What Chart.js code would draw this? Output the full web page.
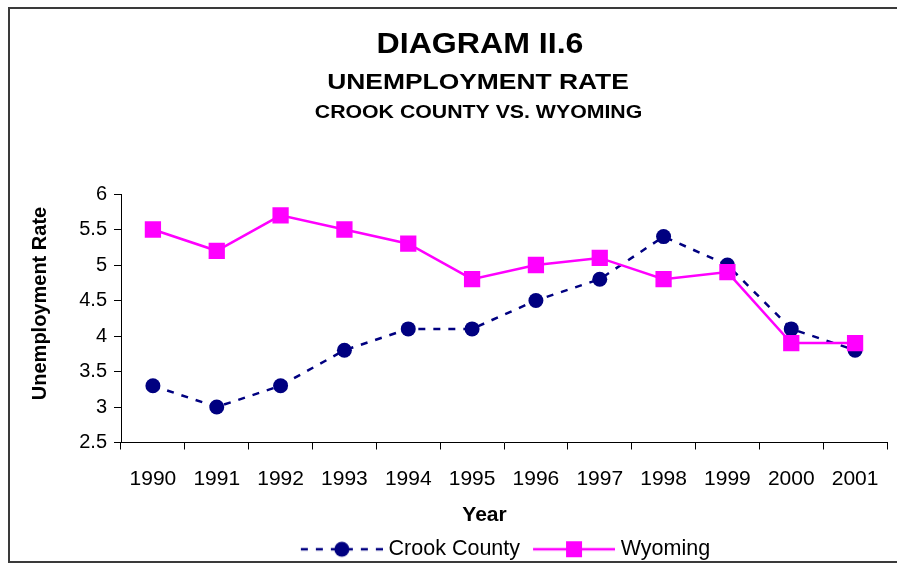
<!DOCTYPE html>
<html>
<head>
<meta charset="utf-8">
<script src="https://cdn.jsdelivr.net/npm/chart.js@4/dist/chart.umd.min.js"></script>
<style>
html,body{margin:0;padding:0;background:#fff;width:897px;height:563px;overflow:hidden}
#wrap{position:absolute;left:0;top:0;width:960px;height:563px}
#frame{position:absolute;left:8px;top:7px;width:960px;height:556px;border:2px solid #3a3a3a;box-sizing:border-box;pointer-events:none}
</style>
</head>
<body>
<div id="wrap"><canvas id="c" width="960" height="563"></canvas></div>
<div id="frame"></div>
<script>
// ---- data ----
const TITLE_LINES = ["DIAGRAM II.6", "UNEMPLOYMENT RATE", "CROOK COUNTY VS. WYOMING"];
const YEARS = ["1990","1991","1992","1993","1994","1995","1996","1997","1998","1999","2000","2001"];
const CROOK_COUNTY = [3.3, 3.0, 3.3, 3.8, 4.1, 4.1, 4.5, 4.8, 5.4, 5.0, 4.1, 3.8];
const WYOMING = [5.5, 5.2, 5.7, 5.5, 5.3, 4.8, 5.0, 5.1, 4.8, 4.9, 3.9, 3.9];
const SERIES_NAMES = ["Crook County", "Wyoming"];
const X_TITLE = "Year";
const Y_TITLE = "Unemployment Rate";

const FONT = "'Liberation Sans', Arial, Helvetica, sans-serif";
const NAVY = "#000080";
const MAGENTA = "#FF00FF";

function legendIcon(color, dash, style) {
  const c = document.createElement('canvas');
  c.width = 90; c.height = 18;
  const g = c.getContext('2d');
  g.strokeStyle = color; g.lineWidth = 2.5; g.setLineDash(dash);
  g.beginPath(); g.moveTo(8, 9); g.lineTo(90, 9); g.stroke();
  g.fillStyle = color;
  if (style === 'circle') { g.beginPath(); g.arc(49, 9, 7.5, 0, Math.PI * 2); g.fill(); }
  else { g.fillRect(41, 1, 16, 16); }
  return c;
}
const ICONS = {};
ICONS[SERIES_NAMES[0]] = legendIcon(NAVY, [7, 8], 'circle');
ICONS[SERIES_NAMES[1]] = legendIcon(MAGENTA, [], 'rect');

function stretchedText(ctx, text, font, cx, baseline, sx) {
  ctx.save();
  ctx.font = font;
  ctx.translate(cx, baseline);
  ctx.scale(sx, 1);
  ctx.fillText(text, 0, 0);
  ctx.restore();
}

const titlesPlugin = {
  id: 'titles',
  afterDraw(chart) {
    const ctx = chart.ctx;
    ctx.save();
    ctx.fillStyle = '#000';
    ctx.textAlign = 'center';
    ctx.textBaseline = 'alphabetic';
    stretchedText(ctx, TITLE_LINES[0], "bold 30px " + FONT, 480, 53, 1.07);
    stretchedText(ctx, TITLE_LINES[1], "bold 22px " + FONT, 478, 89, 1.2);
    stretchedText(ctx, TITLE_LINES[2], "bold 19px " + FONT, 478.5, 118, 1.12);
    // axis titles
    ctx.font = "bold 21px " + FONT;
    ctx.fillText(X_TITLE, 484.5, 521);
    ctx.translate(46, 303.5);
    ctx.rotate(-Math.PI / 2);
    ctx.font = "bold 20px " + FONT;
    ctx.fillText(Y_TITLE, 0, 0);
    ctx.restore();
  }
};

Chart.defaults.font.family = FONT;
Chart.defaults.color = '#000';

new Chart(document.getElementById('c'), {
  type: 'line',
  data: {
    labels: YEARS,
    datasets: [
      {
        label: SERIES_NAMES[1],
        data: WYOMING,
        borderColor: MAGENTA,
        backgroundColor: MAGENTA,
        borderWidth: 2.5,
        tension: 0,
        pointStyle: 'rect',
        pointRadius: 11.5,
        pointHoverRadius: 11.5,
        pointBorderWidth: 0,
        pointBackgroundColor: MAGENTA,
        fill: false
      },
      {
        label: SERIES_NAMES[0],
        data: CROOK_COUNTY,
        borderColor: NAVY,
        backgroundColor: NAVY,
        borderWidth: 2.5,
        borderDash: [7, 8],
        tension: 0,
        pointStyle: 'circle',
        pointRadius: 7.5,
        pointHoverRadius: 7.5,
        pointBorderWidth: 0,
        pointBackgroundColor: NAVY,
        fill: false
      }
    ]
  },
  options: {
    responsive: false,
    animation: false,
    layout: { padding: { top: 194, left: 0, right: 73, bottom: -7 } },
    plugins: {
      title: { display: false },
      tooltip: { enabled: false },
      legend: {
        display: true,
        position: 'bottom',
        fullSize: false,
        reverse: true,
        labels: {
          usePointStyle: true,
          pointStyleWidth: 80,
          padding: 10,
          color: '#000',
          font: { size: 21.5 },
          generateLabels(chart) {
            const items = Chart.defaults.plugins.legend.labels.generateLabels(chart);
            items.forEach(it => { it.pointStyle = ICONS[it.text]; });
            return items;
          }
        }
      }
    },
    scales: {
      x: {
        type: 'category',
        offset: true,
        grid: { offset: true, drawOnChartArea: false, drawTicks: true, tickLength: 7, color: '#000', lineWidth: 1 },
        border: { display: true, color: '#000', width: 1 },
        ticks: { color: '#000', font: { size: 21 }, padding: 17, maxRotation: 0, autoSkip: false },
        title: { display: false },
        afterFit(scale) { scale.height = 86; }
      },
      y: {
        min: 2.5,
        max: 6,
        ticks: {
          stepSize: 0.5, color: '#000', font: { size: 20 }, padding: 7,
          callback: v => String(Math.round(v * 10) / 10)
        },
        grid: { drawOnChartArea: false, drawTicks: true, tickLength: 7, color: '#000', lineWidth: 1 },
        border: { display: true, color: '#000', width: 1 },
        title: { display: false },
        afterFit(scale) { scale.width = 121; }
      }
    }
  },
  plugins: [titlesPlugin]
});
</script>
</body>
</html>
